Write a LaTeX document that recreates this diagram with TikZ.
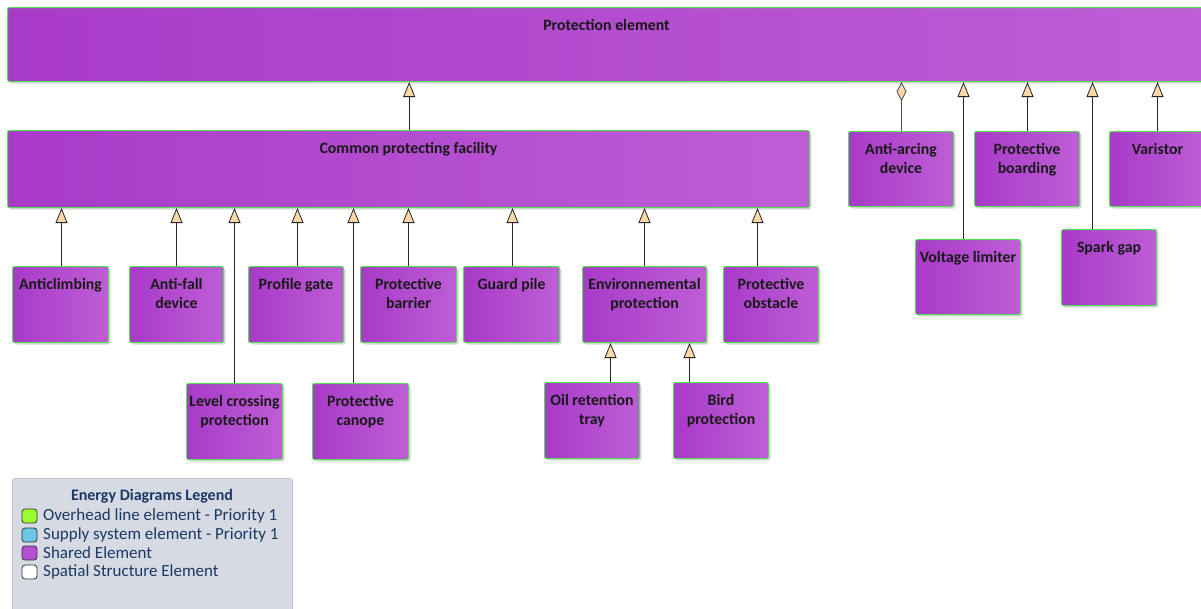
\documentclass[tikz,border=0pt]{standalone}
\usepackage{fontspec}
\setmainfont{Carlito}
\usetikzlibrary{arrows.meta,shadows}
\definecolor{pleft}{RGB}{168,58,200}
\definecolor{pright}{RGB}{190,94,214}
\definecolor{pborder}{RGB}{80,225,80}
\definecolor{tipfill}{RGB}{250,216,170}
\definecolor{legfill}{RGB}{214,218,227}
\definecolor{legborder}{RGB}{188,193,203}
\definecolor{legtext}{RGB}{28,56,100}
\definecolor{limec}{RGB}{154,255,46}
\definecolor{bluec}{RGB}{110,198,230}
\definecolor{purplec}{RGB}{181,79,211}
\newcommand\elembox[6]{%
  \node[elem, minimum width={#4-#2}, minimum height={#5-#3}] (#1) at (#2,-#3) {};
  \node[lbl] (#1-t) at ([yshift=-12pt]#1.north) {#6};}
\newcommand\genline[4][gen]{%
  \path (#2.north) ++(#4,0) coordinate (#2-c);
  \draw[#1] (#2-c) -- (#2-c |- #3.south);}
\begin{document}
\begin{tikzpicture}[x=1pt,y=1pt,
  elem/.style={rectangle, rounded corners=2pt, draw=pborder, line width=1pt,
    left color=pleft, right color=pright,
    drop shadow={shadow xshift=2pt, shadow yshift=-2pt, opacity=0.15, fill=black},
    anchor=north west, inner sep=0pt},
  lbl/.style={anchor=north, align=center, inner sep=0pt, text=black!90,
    font=\fontsize{15.8}{19}\selectfont\bfseries},
  gen/.style={draw=black!85, line width=1.1pt,
    -{Triangle[fill=tipfill, length=15pt, width=12pt, line width=0.8pt]}},
  agg/.style={draw=black!70, line width=1.1pt,
    -{Diamond[fill=tipfill, length=19pt, width=10pt, line width=0.8pt]}},
  legbox/.style={rectangle, rounded corners=3pt, draw=legborder, fill=legfill,
    line width=0.8pt, anchor=north west, inner sep=0pt},
  legsq/.style={rectangle, rounded corners=3pt, draw=black!80, line width=0.8pt,
    minimum width=15pt, minimum height=14pt, inner sep=0pt},
  legtxt/.style={anchor=west, inner sep=0pt, text=legtext,
    font=\fontsize{17}{19}\selectfont},
]
\useasboundingbox (0,0) rectangle (1201,-608);
\clip (0,0) rectangle (1201,-608);
\fill[white] (0,0) rectangle (1201,-608);

% top level
\elembox{prot}{7}{7}{1205}{81}{Protection element}
\elembox{common}{7}{130}{809}{207}{Common protecting facility}

% right column
\elembox{antiarc}{848}{131}{953}{206}{Anti-arcing\\device}
\elembox{voltage}{915}{239}{1020}{314}{Voltage limiter}
\elembox{boarding}{974}{131}{1079}{206}{Protective\\boarding}
\elembox{spark}{1061}{229}{1156}{305}{Spark gap}
\elembox{varistor}{1109}{131}{1205}{206}{Varistor}

% second row
\elembox{anticl}{12}{266}{108}{342}{Anticlimbing}
\elembox{antifall}{129}{266}{223}{342}{Anti-fall\\device}
\elembox{profile}{248}{266}{343}{342}{Profile gate}
\elembox{barrier}{360}{266}{456}{342}{Protective\\barrier}
\elembox{guard}{463}{266}{559}{342}{Guard pile}
\elembox{env}{582}{266}{706}{342}{Environnemental\\protection}
\elembox{obstacle}{723}{266}{818}{342}{Protective\\obstacle}

% third row
\elembox{level}{186}{383}{282}{459}{Level crossing\\protection}
\elembox{canope}{312}{383}{408}{459}{Protective\\canope}
\elembox{oil}{544}{382}{639}{458}{Oil retention\\tray}
\elembox{bird}{673}{382}{768}{458}{Bird\\protection}

% connectors
\genline{common}{prot}{0.7}
\genline[agg]{antiarc}{prot}{0.5}
\genline{voltage}{prot}{-4.5}
\genline{boarding}{prot}{0.5}
\genline{spark}{prot}{-16.5}
\genline{varistor}{prot}{0}

\genline{anticl}{common}{1}
\genline{antifall}{common}{0}
\genline{level}{common}{0}
\genline{profile}{common}{1.5}
\genline{canope}{common}{-7}
\genline{barrier}{common}{0}
\genline{guard}{common}{1}
\genline{env}{common}{0}
\genline{obstacle}{common}{-13.5}
\genline{oil}{env}{18.5}
\genline{bird}{env}{-31.5}

% legend
\node[legbox, minimum width=280pt, minimum height=150pt] (legend) at (12,-478) {};
\node[inner sep=0pt, text=legtext, font=\fontsize{16}{17}\selectfont\bfseries] (legtitle) at (152,-496) {Energy Diagrams Legend};
\node[legsq, fill=limec] (sq1) at (29.5,-516) {};
\node[legsq, fill=bluec] (sq2) at (29.5,-535) {};
\node[legsq, fill=purplec] (sq3) at (29.5,-553) {};
\node[legsq, fill=white] (sq4) at (29.5,-572) {};
\node[legtxt] (lt1) at (43,-516) {Overhead line element - Priority 1};
\node[legtxt] (lt2) at (43,-535) {Supply system element - Priority 1};
\node[legtxt] (lt3) at (43,-553) {Shared Element};
\node[legtxt] (lt4) at (43,-572) {Spatial Structure Element};
\end{tikzpicture}
\end{document}
